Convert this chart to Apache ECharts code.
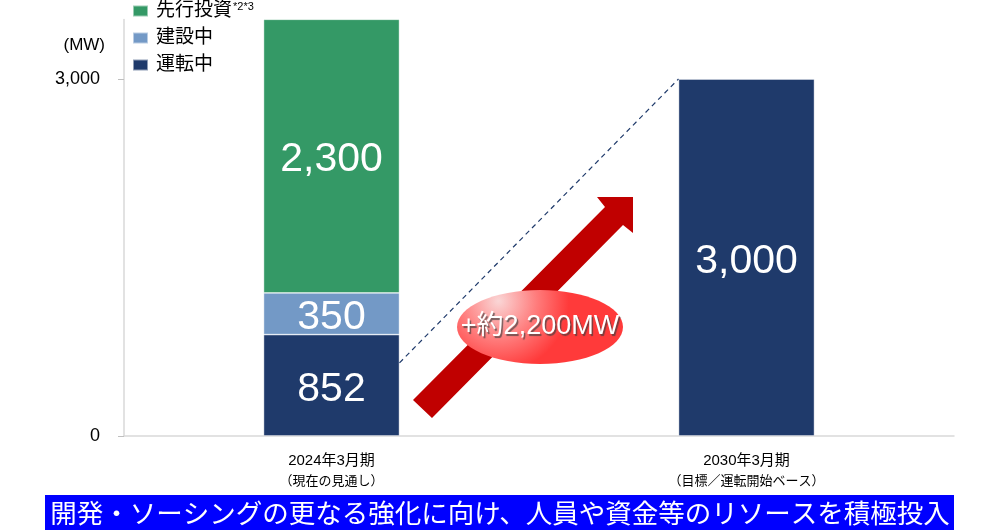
<!DOCTYPE html>
<html lang="ja">

<head>
  <meta charset="utf-8">
  <title>開発・ソーシング 容量推移</title>
  <style>
    * {
      margin: 0;
      padding: 0;
    }

    #chart-container {
      position: relative;
      width: 1000px;
      height: 530px;
      overflow: hidden;
    }
  </style>
</head>

<body>
  <div id="chart-container"></div>
  <script src="https://cdn.jsdelivr.net/npm/echarts@6/dist/echarts.min.js"></script>
  <script>
    // data
    var periods = ['2024年3月期', '2030年3月期'];
    var periodNotes = ['（現在の見通し）', '（目標／運転開始ベース）'];
    var operating = [852, 3000];
    var construction = [350, null];
    var advance = [2300, null];
    var yTicks = [0, 3000];
    var increaseText = '+約2,200MW';
    var bannerText = '開発・ソーシングの更なる強化に向け、人員や資金等のリソースを積極投入';

    var FONT = 'Arial, "Liberation Sans", "Noto Sans CJK JP", sans-serif';
    var BAR_W = 136;

    var dom = document.getElementById('chart-container');
    var myChart = echarts.init(dom, null, { renderer: 'canvas' });

    function fmt(v) {
      return Number(v).toLocaleString('en-US');
    }

    var barLabel = {
      show: true,
      position: 'inside',
      offset: [0, 4],
      color: '#fff',
      fontSize: 41,
      fontFamily: FONT,
      formatter: function (p) { return fmt(p.value); }
    };

    var option = {
      backgroundColor: '#fff',
      animation: false,
      grid: { left: 124, right: 46, top: 19.5, bottom: 94 },
      legend: {
        orient: 'vertical',
        left: 127,
        top: -4,
        icon: 'rect',
        itemWidth: 15,
        itemHeight: 11,
        itemGap: 8,
        data: ['先行投資', '建設中', '運転中'],
        textStyle: {
          fontSize: 19,
          fontFamily: FONT,
          color: '#000',
          rich: {
            a: { fontSize: 19, fontFamily: FONT, color: '#000', lineHeight: 20, padding: [0, 0, 0, 3] },
            s: { fontSize: 11, fontFamily: FONT, color: '#000', verticalAlign: 'top', padding: [0, 0, 0, 1] }
          }
        },
        formatter: function (name) {
          if (name === '先行投資') return '{a|' + name + '}{s|*2*3}';
          return '{a|' + name + '}';
        }
      },
      xAxis: {
        type: 'category',
        data: periods,
        axisLine: { lineStyle: { color: '#d9d9d9', width: 1.5 } },
        axisTick: { show: false },
        axisLabel: {
          margin: 15,
          formatter: function (v, i) {
            return '{a|' + v + '}\n{b|' + periodNotes[i] + '}';
          },
          rich: {
            a: { fontSize: 15, fontFamily: FONT, color: '#000', lineHeight: 20 },
            b: { fontSize: 13, fontFamily: FONT, color: '#000', lineHeight: 20 }
          }
        }
      },
      yAxis: {
        type: 'value',
        min: 0,
        max: 3500,
        splitLine: { show: false },
        axisLine: { show: true, lineStyle: { color: '#d9d9d9', width: 1.5 } },
        axisTick: { show: true, length: 6, lineStyle: { color: '#bfbfbf' }, customValues: yTicks },
        axisLabel: {
          margin: 24,
          fontSize: 18,
          fontFamily: FONT,
          color: '#000',
          customValues: yTicks,
          formatter: function (v) { return fmt(v); }
        }
      },
      series: [
        {
          name: '運転中',
          type: 'bar',
          stack: 'mw',
          barWidth: BAR_W,
          data: operating,
          itemStyle: { color: '#1f3a6b', borderColor: 'rgba(255,255,255,0.5)', borderWidth: 0.8 },
          label: barLabel
        },
        {
          name: '建設中',
          type: 'bar',
          stack: 'mw',
          barWidth: BAR_W,
          data: construction,
          itemStyle: { color: '#7399c6', borderColor: 'rgba(255,255,255,0.5)', borderWidth: 0.8 },
          label: barLabel
        },
        {
          name: '先行投資',
          type: 'bar',
          stack: 'mw',
          barWidth: BAR_W,
          data: advance,
          itemStyle: { color: '#349966', borderColor: 'rgba(255,255,255,0.5)', borderWidth: 0.8 },
          label: barLabel
        }
      ]
    };

    myChart.setOption(option);

    // annotations placed from the axes
    var p0 = myChart.convertToPixel({ gridIndex: 0 }, [0, 615]);
    var p1 = myChart.convertToPixel({ gridIndex: 0 }, [1, operating[1]]);
    var x0 = p0[0] + BAR_W / 2, y0 = p0[1];
    var x1 = p1[0] - BAR_W / 2, y1 = p1[1];

    myChart.setOption({
      graphic: [
        {
          type: 'line',
          shape: { x1: x0, y1: y0, x2: x1, y2: y1 },
          style: { stroke: '#1f3a6b', lineWidth: 1.2, lineDash: [5, 4] },
          z: 10
        },
        {
          type: 'polygon',
          shape: {
            points: [[413, 400], [605, 207], [597, 197], [633, 197], [633, 233], [623, 225], [432, 418]]
          },
          style: { fill: '#c00000' },
          z: 11
        },
        {
          type: 'ellipse',
          shape: { cx: 540, cy: 327, rx: 83, ry: 37 },
          style: {
            fill: new echarts.graphic.RadialGradient(0.25, 0.15, 0.95, [
              { offset: 0, color: '#fad6d6' },
              { offset: 0.55, color: '#ff7b7b' },
              { offset: 1, color: '#ff3a3a' }
            ])
          },
          z: 12
        },
        {
          type: 'text',
          x: 540,
          y: 327,
          style: {
            text: increaseText,
            align: 'center',
            verticalAlign: 'middle',
            fontSize: 27,
            fontFamily: FONT,
            fill: '#fff',
            textShadowColor: 'rgba(60,60,60,0.7)',
            textShadowBlur: 1,
            textShadowOffsetX: 1.5,
            textShadowOffsetY: 1.5
          },
          z: 13
        },
        {
          type: 'text',
          x: 105,
          y: 45,
          style: {
            text: '(MW)',
            align: 'right',
            verticalAlign: 'middle',
            fontSize: 17,
            fontFamily: FONT,
            fill: '#000'
          }
        },
        {
          type: 'rect',
          shape: { x: 45, y: 495, width: 909, height: 35 },
          style: { fill: '#0000ff' }
        },
        {
          type: 'text',
          x: 500,
          y: 513,
          style: {
            text: bannerText,
            align: 'center',
            verticalAlign: 'middle',
            fontSize: 26.5,
            fontFamily: '"Noto Sans CJK JP", sans-serif',
            fill: '#fff'
          }
        }
      ]
    });

    window.addEventListener('resize', myChart.resize);
  </script>
</body>

</html>
